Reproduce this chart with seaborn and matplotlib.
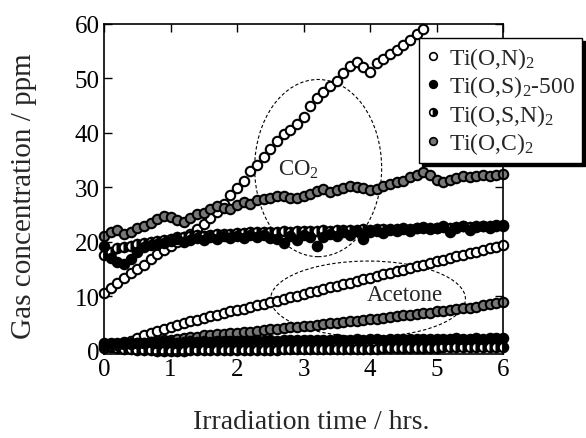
import numpy as np
import pandas as pd
import seaborn as sns
import matplotlib.pyplot as plt
from matplotlib.lines import Line2D
from matplotlib.patches import Ellipse

# sampling times (h)
time_h = [0.0, 0.1, 0.2, 0.3, 0.4, 0.5, 0.6, 0.7, 0.8, 0.9,
          1.0, 1.1, 1.2, 1.3, 1.4, 1.5, 1.6, 1.7, 1.8, 1.9,
          2.0, 2.1, 2.2, 2.3, 2.4, 2.5, 2.6, 2.7, 2.8, 2.9,
          3.0, 3.1, 3.2, 3.3, 3.4, 3.5, 3.6, 3.7, 3.8, 3.9,
          4.0, 4.1, 4.2, 4.3, 4.4, 4.5, 4.6, 4.7, 4.8, 4.9,
          5.0, 5.1, 5.2, 5.3, 5.4, 5.5, 5.6, 5.7, 5.8, 5.9, 6.0]

# CO2 (ppm)
co2_on = [10.5, 11.5, 12.5, 13.3, 14.2, 15.0, 15.8, 16.8, 17.7, 18.5,
          19.3, 20.0, 20.8, 21.5, 22.3, 23.2, 24.3, 25.5, 27.0, 28.5,
          29.8, 31.2, 33.0, 34.0, 35.5, 37.0, 38.5, 39.8, 40.5, 41.5,
          42.8, 44.8, 46.3, 47.5, 48.5, 49.5, 51.0, 52.3, 53.0, 52.0,
          51.2, 52.8, 53.5, 54.5, 55.2, 56.0, 57.0, 58.0, 59.0]
co2_os = [19.3, 17.0, 16.2, 16.0, 16.8, 18.2, 19.0, 19.4, 19.6, 19.8,
          20.2, 20.5, 20.0, 20.4, 20.6, 20.3, 20.8, 20.5, 21.0, 20.7,
          21.0, 20.6, 21.2, 20.8, 21.3, 20.6, 20.5, 19.8, 21.0, 20.3,
          21.3, 20.8, 19.3, 20.8, 21.5, 21.0, 21.8, 21.3, 22.0, 20.5,
          21.8, 22.0, 21.6, 22.2, 21.9, 22.4, 22.0, 22.5, 22.7, 22.3,
          22.6, 22.8, 21.8, 22.5, 22.9, 22.2, 22.7, 22.9, 22.6, 23.0, 23.0]
co2_osn = [17.5, 18.2, 18.8, 19.0, 19.3, 19.5, 19.8, 20.0, 20.2, 20.3,
           20.5, 20.8, 20.9, 21.0, 21.2, 21.1, 21.3, 21.4, 21.5, 21.4,
           21.6, 21.6, 21.7, 21.7, 21.8, 21.7, 21.8, 21.9, 21.8, 21.9,
           22.0, 21.9, 22.0, 22.1, 22.0, 22.1, 22.2, 22.1, 22.2, 22.3,
           22.2, 22.3, 22.4, 22.3, 22.4, 22.5, 22.4, 22.5, 22.6, 22.5,
           22.6, 22.7, 22.6, 22.7, 22.8, 22.7, 22.8, 22.8, 22.9, 22.8, 22.9]
co2_oc = [21.0, 21.8, 22.2, 21.5, 21.8, 22.5, 22.8, 23.5, 24.2, 24.7,
          24.5, 24.0, 23.6, 24.3, 25.0, 25.3, 26.0, 26.5, 26.2, 26.0,
          26.8, 27.2, 27.0, 27.6, 27.8, 28.0, 28.3, 28.4, 28.0, 28.1,
          28.3, 28.8, 29.3, 29.6, 29.2, 29.5, 29.9, 30.2, 30.0, 29.8,
          29.5, 29.6, 30.3, 30.6, 31.0, 31.2, 31.8, 32.3, 32.8, 32.2,
          31.3, 30.9, 31.3, 31.6, 32.0, 31.8, 32.0, 32.2, 32.0, 32.3, 32.4]

# acetone (ppm)
ace_on = [0.5, 0.6, 0.8, 1.2, 1.7, 2.3, 2.8, 3.2, 3.6, 4.0,
          4.4, 4.8, 5.1, 5.4, 5.7, 6.0, 6.3, 6.6, 6.9, 7.2,
          7.5, 7.7, 8.0, 8.3, 8.6, 8.9, 9.2, 9.5, 9.8, 10.1,
          10.4, 10.7, 11.0, 11.3, 11.6, 11.9, 12.2, 12.5, 12.8, 13.1,
          13.4, 13.7, 14.0, 14.3, 14.6, 14.9, 15.2, 15.5, 15.8, 16.1,
          16.4, 16.7, 17.0, 17.3, 17.6, 17.9, 18.2, 18.5, 18.8, 19.1, 19.4]
ace_os = [1.5, 1.4, 1.5, 1.6, 1.5, 1.4, 1.5, 1.6, 1.5, 1.6,
          1.6, 1.5, 1.6, 1.7, 1.6, 1.7, 1.6, 1.7, 1.8, 1.7,
          1.8, 1.7, 1.8, 1.9, 1.8, 1.9, 1.8, 1.9, 1.9, 2.0,
          1.9, 2.0, 1.9, 2.0, 2.0, 2.1, 2.0, 2.0, 2.1, 2.0,
          2.1, 2.1, 2.0, 2.1, 2.2, 2.1, 2.1, 2.2, 2.1, 2.2,
          2.2, 2.1, 2.2, 2.3, 2.2, 2.2, 2.3, 2.2, 2.3, 2.3, 2.4]
ace_osn = [0.8, 0.6, 0.5, 0.4, 0.3, 0.2, 0.1, 0.1, 0.0, 0.0,
           0.0, 0.0, 0.0, 0.1, 0.1, 0.1, 0.1, 0.1, 0.1, 0.1,
           0.1, 0.2, 0.2, 0.2, 0.2, 0.2, 0.2, 0.3, 0.3, 0.3,
           0.3, 0.3, 0.3, 0.3, 0.4, 0.4, 0.4, 0.4, 0.4, 0.4,
           0.4, 0.4, 0.5, 0.5, 0.5, 0.5, 0.5, 0.5, 0.5, 0.5,
           0.5, 0.6, 0.6, 0.6, 0.6, 0.6, 0.6, 0.6, 0.6, 0.6, 0.6]
ace_oc = [1.0, 1.0, 1.1, 1.2, 1.3, 1.4, 1.5, 1.6, 1.8, 1.9,
          2.0, 2.2, 2.3, 2.5, 2.6, 2.8, 2.9, 3.0, 3.1, 3.2,
          3.3, 3.4, 3.5, 3.7, 3.8, 3.9, 4.0, 4.2, 4.3, 4.4,
          4.5, 4.6, 4.8, 4.9, 5.0, 5.1, 5.3, 5.4, 5.5, 5.6,
          5.8, 5.9, 6.0, 6.2, 6.3, 6.5, 6.6, 6.8, 6.9, 7.0,
          7.2, 7.3, 7.5, 7.6, 7.8, 7.9, 8.1, 8.3, 8.5, 8.7, 8.9]

labels = [r"Ti(O,N)$_2$", r"Ti(O,S)$_2$-500", r"Ti(O,S,N)$_2$", r"Ti(O,C)$_2$"]

sns.set_style("ticks")
plt.rcParams["font.family"] = ["Liberation Serif", "DejaVu Serif"]
plt.rcParams["mathtext.fontset"] = "custom"
plt.rcParams["mathtext.rm"] = "Liberation Serif"
plt.rcParams["mathtext.default"] = "rm"

fig = plt.figure(figsize=(5.86, 4.39), dpi=100)
ax = fig.add_axes([0.1775, 0.1913, 0.6809, 0.7527])

# marker styles per catalyst
styles = {
    "on": dict(markerfacecolor="white"),
    "os": dict(markerfacecolor="black"),
    "osn": dict(markerfacecolor="black", fillstyle="right", markerfacecoloralt="white"),
    "oc": dict(markerfacecolor="#777777"),
}

series = [
    ("on", time_h[:len(co2_on)], co2_on),
    ("on", time_h, ace_on),
    ("osn", time_h, ace_osn),
    ("osn", time_h, co2_osn),
    ("oc", time_h, ace_oc),
    ("oc", time_h, co2_oc),
    ("os", time_h, ace_os),
    ("os", time_h, co2_os),
]

for key, t, y in series:
    df = pd.DataFrame({"t": t, "y": y})
    sns.lineplot(data=df, x="t", y="y", ax=ax, estimator=None, sort=False,
                 color="black", linestyle="", marker="o", markersize=6.8,
                 markeredgecolor="black", markeredgewidth=1.5,
                 clip_on=False, legend=False, **styles[key])

# dashed ellipses around each gas group
ax.add_patch(Ellipse((3.22, 33.5), 1.91, 32.5, fill=False, edgecolor="black",
                     linewidth=0.8, linestyle=(0, (3, 2))))
ax.add_patch(Ellipse((3.97, 9.5), 2.93, 13.9, fill=False, edgecolor="black",
                     linewidth=0.8, linestyle=(0, (3, 2))))
ax.text(2.92, 33.3, r"CO$_2$", fontsize=16.5, ha="center", va="center")
ax.text(4.53, 10.4, "Acetone", fontsize=16.5, ha="center", va="center")

ax.set_xlim(0, 6)
ax.set_ylim(-0.6, 60)
ax.set_xticks([0, 1, 2, 3, 4, 5, 6])
ax.set_yticks([0, 10, 20, 30, 40, 50, 60])
ax.tick_params(direction="in", top=True, right=True, length=6, width=1,
               labelsize=18, pad=3, colors="black")
for sp in ax.spines.values():
    sp.set_linewidth(1.2)
    sp.set_color("black")

ax.set_xlabel("Irradiation time / hrs.", fontsize=20)
ax.set_ylabel("Gas concentration / ppm", fontsize=21)
ax.xaxis.set_label_coords(0.52, -0.165)
ax.yaxis.set_label_coords(-0.168, 0.48)

handles = [Line2D([], [], linestyle="", marker="o", markersize=5.5,
                  markeredgecolor="black", markeredgewidth=1.2, **styles[k])
           for k in ["on", "os", "osn", "oc"]]
leg = fig.legend(handles, labels, loc="upper left",
                 bbox_to_anchor=(419 / 586, 1 - 39 / 439), fontsize=17,
                 frameon=True, fancybox=False, framealpha=1, edgecolor="black",
                 shadow={"color": "black", "alpha": 1}, borderpad=0.3,
                 handlelength=0.6, handletextpad=0.35, labelspacing=0.1,
                 borderaxespad=0)
leg.get_frame().set_linewidth(1.0)

fig.savefig("out.png", dpi=100)
